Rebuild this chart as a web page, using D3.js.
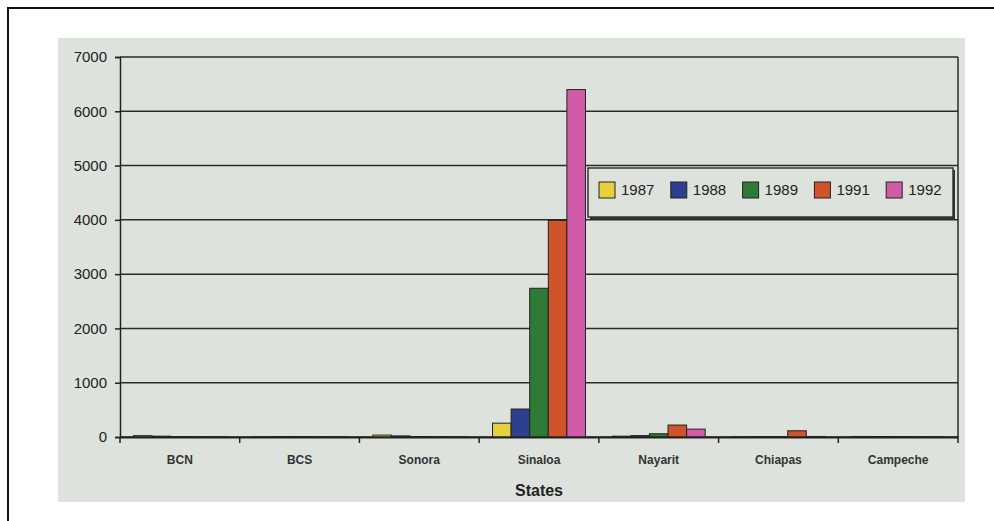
<!DOCTYPE html>
<html>
<head>
<meta charset="utf-8">
<script src="https://cdn.jsdelivr.net/npm/d3@7"></script>
<style>
  body { margin: 0; background: #fff; }
  svg { display: block; font-family: "Liberation Sans", Arial, sans-serif; }
</style>
</head>
<body>
<div id="chart"></div>
<script>
// data
const states = ["BCN", "BCS", "Sonora", "Sinaloa", "Nayarit", "Chiapas", "Campeche"];
const years = ["1987", "1988", "1989", "1991", "1992"];
const v1987 = [25, 5, 35, 255, 15, 5, 10];
const v1988 = [15, 5, 20, 515, 25, 5, 8];
const v1989 = [5, 5, 8, 2740, 60, 5, 5];
const v1991 = [5, 5, 5, 3990, 220, 115, 5];
const v1992 = [5, 5, 5, 6400, 145, 10, 5];
const yTicks = [0, 1000, 2000, 3000, 4000, 5000, 6000, 7000];
const colors = ["#e6d03c", "#2d3f8e", "#2f7a37", "#cf5429", "#d05ca9"];

const series = [v1987, v1988, v1989, v1991, v1992];

const W = 994, H = 521;
const plot = { left: 120, right: 958, top: 57, bottom: 437 };

const svg = d3.select("#chart").append("svg")
    .attr("width", W)
    .attr("height", H);

// page frame (only top and left survive in the scan)
svg.append("path")
    .attr("d", `M8,${H} L8,8 L${W},8`)
    .attr("fill", "none")
    .attr("stroke", "#111")
    .attr("stroke-width", 2);

// grey panel
svg.append("rect")
    .attr("x", 58).attr("y", 38)
    .attr("width", 907).attr("height", 464)
    .attr("fill", "#dde3dc");

const x = d3.scaleBand()
    .domain(states)
    .range([plot.left, plot.right])
    .paddingInner(0)
    .paddingOuter(0);

const xSub = d3.scaleBand()
    .domain(years)
    .range([0, x.bandwidth()])
    .paddingInner(0)
    .paddingOuter(0.72);

const y = d3.scaleLinear()
    .domain([0, 7000])
    .range([plot.bottom, plot.top]);

// gridlines
svg.append("g")
    .selectAll("line")
    .data(yTicks)
    .join("line")
    .attr("x1", plot.left).attr("x2", plot.right)
    .attr("y1", d => y(d)).attr("y2", d => y(d))
    .attr("stroke", "#2a2a2a")
    .attr("stroke-width", 1.5);

// right border
svg.append("line")
    .attr("x1", plot.right).attr("x2", plot.right)
    .attr("y1", plot.top).attr("y2", plot.bottom)
    .attr("stroke", "#2a2a2a")
    .attr("stroke-width", 1.5);

// bars
const groups = svg.append("g")
    .selectAll("g")
    .data(states)
    .join("g")
    .attr("transform", d => `translate(${x(d)},0)`);

groups.selectAll("rect")
    .data((d, i) => years.map((yr, k) => ({ yr, k, value: series[k][i] })))
    .join("rect")
    .attr("x", d => xSub(d.yr))
    .attr("width", xSub.bandwidth())
    .attr("y", d => y(d.value))
    .attr("height", d => y(0) - y(d.value))
    .attr("fill", d => colors[d.k])
    .attr("stroke", "#222")
    .attr("stroke-width", 1);

// y axis
const yAxis = svg.append("g")
    .attr("transform", `translate(${plot.left},0)`)
    .call(d3.axisLeft(y).tickValues(yTicks).tickSize(5).tickPadding(8).tickFormat(d3.format("d")));
yAxis.select(".domain").attr("stroke", "#222").attr("stroke-width", 1.5);
yAxis.selectAll(".tick line").attr("stroke", "#222").attr("stroke-width", 1.5);
yAxis.selectAll("text")
    .attr("font-size", 15)
    .attr("fill", "#222")
    .attr("font-family", "'Liberation Sans', Arial, sans-serif");

// x axis
const xAxis = svg.append("g")
    .attr("transform", `translate(0,${plot.bottom})`)
    .call(d3.axisBottom(x).tickSize(0).tickPadding(18));
xAxis.select(".domain").attr("stroke", "#222").attr("stroke-width", 2);
xAxis.selectAll("text")
    .attr("font-size", 12)
    .attr("font-weight", "bold")
    .attr("fill", "#333")
    .attr("font-family", "'Liberation Sans', Arial, sans-serif");

// category boundary ticks
svg.append("g")
    .selectAll("line")
    .data(states.concat(["end"]))
    .join("line")
    .attr("x1", (d, i) => i < states.length ? x(d) : plot.right)
    .attr("x2", (d, i) => i < states.length ? x(d) : plot.right)
    .attr("y1", plot.bottom)
    .attr("y2", plot.bottom + 6)
    .attr("stroke", "#222")
    .attr("stroke-width", 1.5);

// axis title
svg.append("text")
    .attr("x", (plot.left + plot.right) / 2)
    .attr("y", 496)
    .attr("text-anchor", "middle")
    .attr("font-size", 16)
    .attr("font-weight", "bold")
    .attr("fill", "#222")
    .text("States");

// legend
const legend = svg.append("g").attr("transform", "translate(588,168)");
legend.append("rect")
    .attr("x", 2).attr("y", 2)
    .attr("width", 365).attr("height", 49)
    .attr("fill", "#333");
legend.append("rect")
    .attr("width", 365).attr("height", 49)
    .attr("fill", "#dde3dc")
    .attr("stroke", "#333")
    .attr("stroke-width", 1.5);

const item = legend.selectAll("g.item")
    .data(years)
    .join("g")
    .attr("class", "item")
    .attr("transform", (d, i) => `translate(${11 + i * 71.8},14)`);
item.append("rect")
    .attr("width", 16).attr("height", 16)
    .attr("fill", (d, i) => colors[i])
    .attr("stroke", "#222")
    .attr("stroke-width", 1);
item.append("text")
    .attr("x", 22)
    .attr("y", 13)
    .attr("font-size", 15)
    .attr("fill", "#222")
    .text(d => d);
</script>
</body>
</html>
